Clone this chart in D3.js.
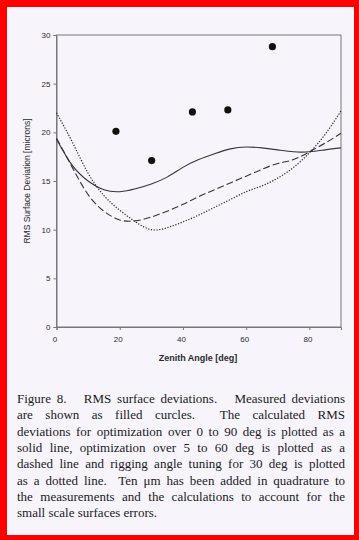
<!DOCTYPE html>
<html><head><meta charset="utf-8">
<script src="https://cdn.jsdelivr.net/npm/d3@7"></script>
<style>
html,body{margin:0;padding:0;background:#fff;}
svg{display:block;}
</style></head>
<body>
<svg id="c" width="359" height="540"></svg>
<script>
// ---- data ----
const measAngle = [18.8, 30.1, 43.0, 54.2, 68.3];
const measRms   = [20.1, 17.1, 22.1, 22.3, 28.8];

const curveAngle = [0,5,10,15,20,25,30,35,40,45,50,55,60,65,70,75,80,85,90];
const rmsOpt0to90 = [19.3,16.6,15.0,14.1,13.9,14.2,14.7,15.4,16.4,17.2,17.8,18.3,18.5,18.4,18.2,18.0,18.0,18.2,18.4];
const rmsOpt5to60 = [19.4,16.4,13.6,11.9,11.0,10.9,11.3,11.9,12.6,13.4,14.1,14.8,15.5,16.2,16.8,17.2,18.0,18.9,19.9];
const rmsRig30    = [22.0,19.0,15.8,13.5,12.0,10.8,10.0,10.2,10.8,11.5,12.3,13.1,13.9,14.5,15.3,16.4,17.9,19.8,22.2];

const xTicks = [0,20,40,60,80];
const yTicks = [0,5,10,15,20,25,30];

const captionLines = [
  "Figure 8.   RMS surface deviations.   Measured deviations",
  "are shown as filled curcles.  The calculated RMS",
  "deviations for optimization over 0 to 90 deg is plotted as a",
  "solid line, optimization over 5 to 60 deg is plotted as a",
  "dashed line and rigging angle tuning for 30 deg is plotted",
  "as a dotted line.  Ten \u03bcm has been added in quadrature to",
  "the measurements and the calculations to account for the",
  "small scale surfaces errors."
];

// ---- drawing ----
const svg = d3.select("#c");
svg.append("rect").attr("x",0).attr("y",0).attr("width",359).attr("height",540).attr("fill","#f00");
svg.append("rect").attr("x",7).attr("y",7).attr("width",347).attr("height",528).attr("fill","#f7f5fb");

const x = d3.scaleLinear().domain([0,90]).range([56.5,341]);
const y = d3.scaleLinear().domain([0,30]).range([327,35]);

const axisCol = "#76767c";
const g = svg.append("g");

g.append("rect").attr("x",x(0)).attr("y",y(30)).attr("width",x(90)-x(0)).attr("height",y(0)-y(30))
  .attr("fill","none").attr("stroke",axisCol).attr("stroke-width",1);

const ya = g.append("g").attr("transform",`translate(${x(0)},0)`)
  .call(d3.axisLeft(y).tickValues(yTicks).tickSize(3).tickPadding(3).tickFormat(d3.format("d")));
ya.select(".domain").attr("stroke",axisCol);
ya.selectAll(".tick line").attr("stroke",axisCol);
ya.selectAll("text").attr("font-family","Liberation Sans, Arial, sans-serif").attr("font-size","8px").attr("fill","#2a2a2e");

const xa = g.append("g").attr("transform",`translate(0,${y(0)})`)
  .call(d3.axisBottom(x).tickValues(xTicks).tickSize(3).tickPadding(6).tickFormat(d3.format("d")));
xa.select(".domain").attr("stroke",axisCol);
xa.selectAll(".tick line").attr("stroke",axisCol);
xa.selectAll("text").attr("font-family","Liberation Sans, Arial, sans-serif").attr("font-size","8px").attr("fill","#2a2a2e").attr("dx","-2");

g.append("text").attr("x",198).attr("y",361).attr("text-anchor","middle")
  .attr("font-family","Liberation Sans, Arial, sans-serif").attr("font-size","9px").attr("font-weight","bold").attr("fill","#2a2a2e")
  .text("Zenith Angle [deg]");
g.append("text").attr("transform","translate(30,181) rotate(-90)").attr("text-anchor","middle")
  .attr("font-family","Liberation Sans, Arial, sans-serif").attr("font-size","8.5px").attr("fill","#2a2a2e")
  .text("RMS Surface Deviation [microns]");

const line = (vals) => d3.line().x((d,i)=>x(curveAngle[i])).y(d=>y(d)).curve(d3.curveNatural)(vals);
const lineCol = "#34343c";
g.append("path").attr("d",line(rmsOpt0to90)).attr("fill","none").attr("stroke",lineCol).attr("stroke-width",1.1);
g.append("path").attr("d",line(rmsOpt5to60)).attr("fill","none").attr("stroke",lineCol).attr("stroke-width",1.1).attr("stroke-dasharray","7,3");
g.append("path").attr("d",line(rmsRig30)).attr("fill","none").attr("stroke","#222228").attr("stroke-width",1.2).attr("stroke-dasharray","1.2,1.6");

g.selectAll("circle.m").data(measAngle).join("circle").attr("class","m")
  .attr("cx",(d)=>x(d)).attr("cy",(d,i)=>y(measRms[i])).attr("r",3.6).attr("fill","#111");

const capLeft = 17, capRight = 345, base0 = 403, lh = 16.3;
captionLines.forEach((t,i)=>{
  const tx = svg.append("text").attr("x",capLeft).attr("y",base0+i*lh)
    .attr("font-family","Liberation Serif, Times New Roman, serif").attr("font-size","13px").attr("fill","#1a1a1e")
    .attr("xml:space","preserve").style("white-space","pre").text(t);
  if (i < captionLines.length-1) {
    const w = tx.node().getComputedTextLength();
    const target = capRight - capLeft;
    const spaces = (t.match(/ /g)||[]).length;
    if (w < target && spaces>0) tx.attr("word-spacing",(target-w)/spaces);
    else tx.attr("textLength",target).attr("lengthAdjust","spacingAndGlyphs");
  }
});
</script>
</body></html>
